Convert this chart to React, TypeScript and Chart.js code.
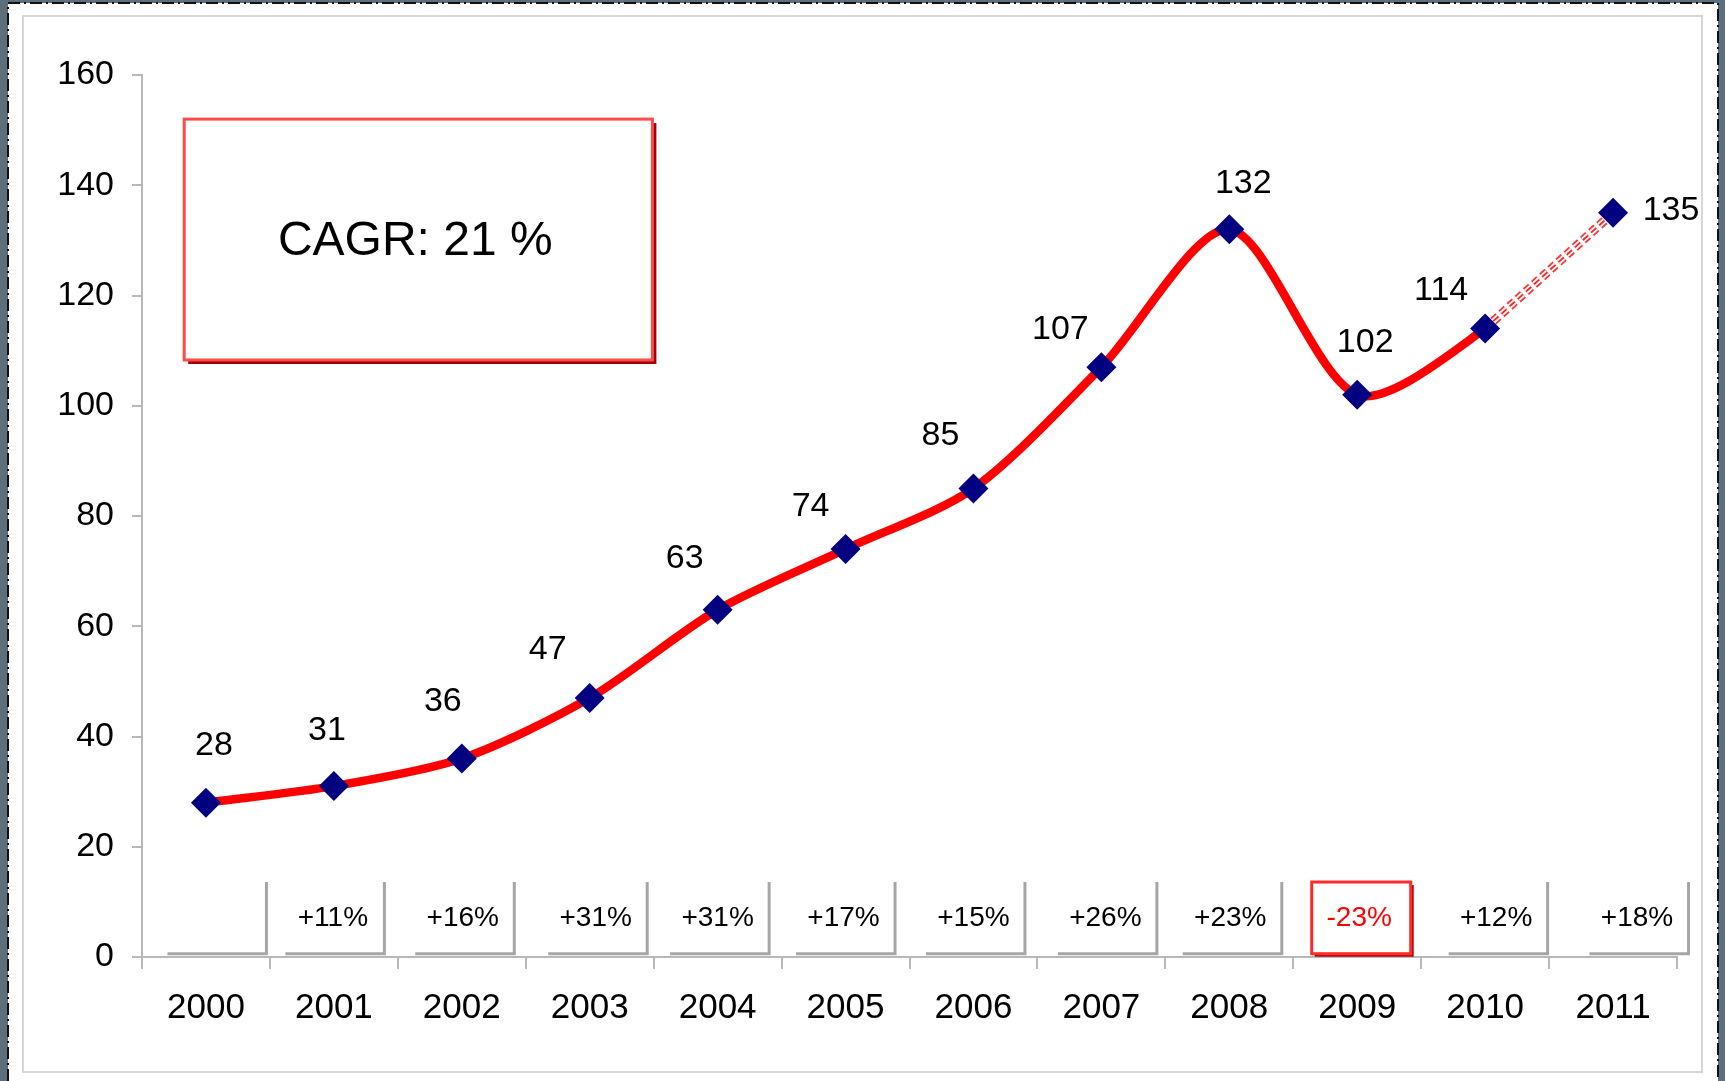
import React, { useEffect, useRef } from 'react';
import { Chart, registerables } from 'chart.js';

Chart.register(...registerables);

// ---- data ----
const years = ['2000', '2001', '2002', '2003', '2004', '2005', '2006', '2007', '2008', '2009', '2010', '2011'];
const values = [28, 31, 36, 47, 63, 74, 85, 107, 132, 102, 114, 135];
const growthLabels = ['', '+11%', '+16%', '+31%', '+31%', '+17%', '+15%', '+26%', '+23%', '-23%', '+12%', '+18%'];
const highlightIndex = 9; // the one negative year
const forecastFrom = 10; // last segment (2010 -> 2011) is dashed
const cagrText = 'CAGR: 21 %';
const yMin = 0;
const yMax = 160;
const yStep = 20;

// ---- styles ----
const FONT = '"Liberation Sans", Arial, Helvetica, sans-serif';
const RED = '#ff0000';
const NAVY = '#000080';
const AXIS = '#b8b8b8';
const labelOffsets: [number, number][] = [
  [8, -57], [-7, -55], [-19, -57], [-42, -48], [-33, -51], [-35, -42],
  [-33, -53], [-41, -38], [14, -46], [8, -52], [-44, -38], [58, -2],
];
const boxShifts = [11, 1, 3, 8, 2, 0, 2, 6, 3, 4, 13, 26];
const BOX_W = 99;
const boxValueRange = [0.6, 13.6];
const cagrBoxRange = { x0: -0.17, x1: 3.49, y0: 108.3, y1: 152 };

const backgroundPlugin = {
  id: 'pageBackground',
  beforeDraw(chart: any) {
    const { ctx, width, height } = chart;
    ctx.save();
    ctx.fillStyle = '#5d6e7d';
    ctx.fillRect(0, 0, width, height);
    ctx.fillStyle = '#ffffff';
    ctx.fillRect(8, 3, 1710, height - 3);
    ctx.strokeStyle = '#111111';
    ctx.lineWidth = 2;
    ctx.setLineDash([12, 4, 2, 4]);
    ctx.beginPath();
    ctx.moveTo(8, height);
    ctx.lineTo(8, 3);
    ctx.lineTo(1718, 3);
    ctx.lineTo(1718, height);
    ctx.stroke();
    ctx.setLineDash([]);
    ctx.strokeStyle = '#d6d6d6';
    ctx.lineWidth = 2;
    ctx.strokeRect(23, 16, 1679, 1056);
    ctx.restore();
  },
};

const boxesPlugin = {
  id: 'growthBoxes',
  beforeDatasetsDraw(chart: any) {
    const { ctx } = chart;
    const xs = chart.scales.x;
    const ys = chart.scales.y;
    const top = ys.getPixelForValue(boxValueRange[1]);
    const bottom = ys.getPixelForValue(boxValueRange[0]);
    const h = bottom - top;
    ctx.save();
    growthLabels.forEach((t, i) => {
      const cx = xs.getPixelForValue(i) + boxShifts[i];
      const l = cx - BOX_W / 2;
      const r = cx + BOX_W / 2;
      let color = '#000000';
      if (i === highlightIndex) {
        ctx.fillStyle = '#b00000';
        ctx.fillRect(l + 3, top + 3, BOX_W, h);
        ctx.fillStyle = '#ffffff';
        ctx.fillRect(l, top, BOX_W, h);
        ctx.strokeStyle = '#ff2a2a';
        ctx.lineWidth = 3;
        ctx.strokeRect(l, top, BOX_W, h);
        color = '#ff0000';
      } else {
        ctx.strokeStyle = '#a6a6a6';
        ctx.lineWidth = 3;
        ctx.beginPath();
        ctx.moveTo(l, bottom);
        ctx.lineTo(r, bottom);
        ctx.lineTo(r, top);
        ctx.stroke();
      }
      if (t) {
        ctx.fillStyle = color;
        ctx.font = `28px ${FONT}`;
        ctx.textAlign = 'center';
        ctx.textBaseline = 'middle';
        ctx.fillText(t, cx - 2, top + h / 2);
      }
    });

    // CAGR annotation box
    const bl = xs.getPixelForValue(cagrBoxRange.x0);
    const br = xs.getPixelForValue(cagrBoxRange.x1);
    const bt = ys.getPixelForValue(cagrBoxRange.y1);
    const bb = ys.getPixelForValue(cagrBoxRange.y0);
    ctx.fillStyle = '#a00000';
    ctx.fillRect(bl + 4, bt + 4, br - bl, bb - bt);
    ctx.fillStyle = '#ffffff';
    ctx.fillRect(bl, bt, br - bl, bb - bt);
    ctx.strokeStyle = '#ff4a4a';
    ctx.lineWidth = 3;
    ctx.strokeRect(bl, bt, br - bl, bb - bt);
    ctx.fillStyle = '#000000';
    ctx.font = `48px ${FONT}`;
    ctx.textAlign = 'center';
    ctx.textBaseline = 'middle';
    ctx.fillText(cagrText, (bl + br) / 2 - 3, (bt + bb) / 2 + 2);
    ctx.restore();
  },
};

const valueLabelsPlugin = {
  id: 'valueLabels',
  afterDatasetsDraw(chart: any) {
    const { ctx } = chart;
    const meta = chart.getDatasetMeta(0);
    ctx.save();
    ctx.fillStyle = '#000000';
    ctx.font = `34px ${FONT}`;
    ctx.textAlign = 'center';
    ctx.textBaseline = 'middle';
    meta.data.forEach((pt: any, i: number) => {
      const [dx, dy] = labelOffsets[i];
      ctx.fillText(String(values[i]), pt.x + dx, pt.y + dy);
    });
    ctx.restore();
  },
};

const forecastValues = values.map((v, i) => (i >= forecastFrom ? v : null));

export default function App() {
  const canvasRef = useRef<HTMLCanvasElement | null>(null);

  useEffect(() => {
    if (!canvasRef.current) return;
    const stripe = (width: number, color: string, order: number) => ({
      data: forecastValues,
      borderColor: color,
      borderWidth: width,
      borderDash: [7, 4],
      borderCapStyle: 'butt' as const,
      tension: 0,
      pointRadius: 0,
      fill: false,
      order,
    });
    const chart = new Chart(canvasRef.current, {
      type: 'line',
      data: {
        labels: years,
        datasets: [
          {
            data: values,
            borderColor: RED,
            borderWidth: 8.5,
            tension: 0.28,
            fill: false,
            pointStyle: 'rectRot',
            pointRadius: 15,
            pointBackgroundColor: NAVY,
            pointBorderColor: NAVY,
            pointBorderWidth: 0,
            order: 0,
            segment: {
              borderColor: (c: any) => (c.p1DataIndex > forecastFrom ? 'rgba(0,0,0,0)' : RED),
            },
          } as any,
          stripe(1.8, '#ff2020', 1),
          stripe(5.5, '#ffffff', 2),
          stripe(9, '#ff3030', 3),
        ],
      },
      options: {
        responsive: false,
        animation: false,
        layout: { padding: { top: 75, right: 48, bottom: 44, left: 0 } },
        plugins: {
          legend: { display: false },
          tooltip: { enabled: false },
        },
        scales: {
          x: {
            offset: true,
            grid: {
              display: true,
              drawOnChartArea: false,
              drawTicks: true,
              tickLength: 12,
              color: AXIS,
              lineWidth: 2,
              offset: true,
            },
            border: { display: true, color: AXIS, width: 2 },
            ticks: {
              color: '#000000',
              font: { family: FONT, size: 35 },
              padding: 18,
              maxRotation: 0,
              autoSkip: false,
            },
            afterFit: (s: any) => {
              s.height = 80;
            },
          },
          y: {
            min: yMin,
            max: yMax,
            grid: {
              display: true,
              drawOnChartArea: false,
              drawTicks: true,
              tickLength: 10,
              color: AXIS,
              lineWidth: 2,
            },
            border: { display: true, color: AXIS, width: 2 },
            ticks: {
              stepSize: yStep,
              color: '#000000',
              font: { family: FONT, size: 34 },
              padding: 18,
            },
            afterFit: (s: any) => {
              s.width = 142;
            },
          },
        },
      },
      plugins: [backgroundPlugin, boxesPlugin, valueLabelsPlugin],
    });
    return () => chart.destroy();
  }, []);

  return (
    <div style={{ position: 'absolute', left: 0, top: 0, width: 1725, height: 1081, overflow: 'hidden' }}>
      <canvas ref={canvasRef} width={1725} height={1081} style={{ display: 'block' }} />
    </div>
  );
}
